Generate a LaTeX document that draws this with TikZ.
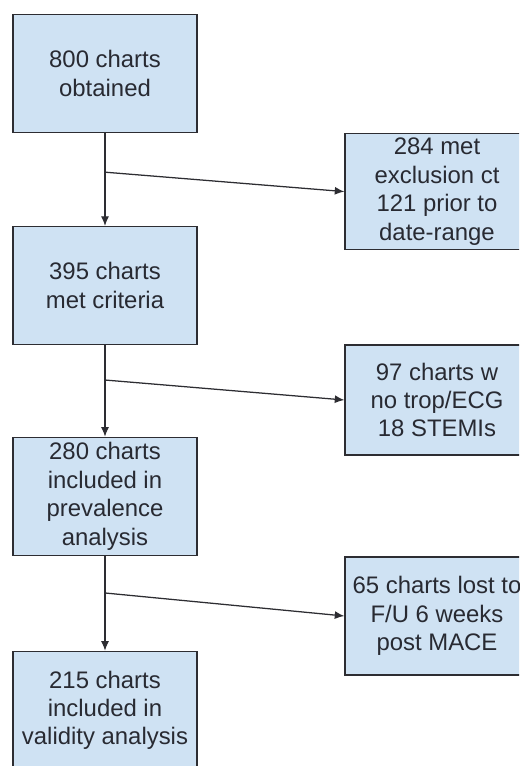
\documentclass[tikz,border=0pt]{standalone}
\usepackage{fontspec}
\setmainfont{Liberation Sans}
\usepackage{xcolor}
\usepackage{tikz}
\usetikzlibrary{arrows.meta, positioning, calc}
\definecolor{chartblue}{RGB}{207,226,243}
\definecolor{chartedge}{RGB}{45,45,50}
\definecolor{charttext}{RGB}{40,42,50}

\begin{document}
\begin{tikzpicture}[
    box/.style={rectangle, draw=chartedge, fill=chartblue, line width=0.9pt, align=center, text=charttext,
        font=\fontsize{17}{20.2}\selectfont, inner sep=0pt, minimum width=4.6cm, minimum height=2.95cm},
    arrow/.style={-{Latex[length=2.4mm, width=2mm]}, line width=0.9pt, draw=chartedge}
]
\useasboundingbox (0,0) rectangle (12.975,-19.15);
\clip (0,0) rectangle (12.975,-19.15);

% main column
\node[box] (obtained) at (2.625,-1.84) {800 charts\\obtained};
\node[box] (criteria) at (2.625,-7.14) {395 charts\\met criteria};
\node[box] (prevalence) at (2.625,-12.41) {280 charts\\included in\\prevalence\\analysis};
\node[box] (validity) at (2.625,-17.76) {215 charts\\included in\\validity analysis};

% excluded charts
\node[box, minimum height=2.9cm] (exclusion) at (10.925,-4.79) {284 met\\exclusion ct\\121 prior to\\date-range};
\node[box, minimum height=2.75cm] (notrop) at (10.925,-10.0) {97 charts w\\no trop/ECG\\18 STEMIs};
\node[box] (lostfu) at (10.925,-15.4) {65 charts lost to\\F/U 6 weeks\\post MACE};

\coordinate (split1) at ($(obtained.south)!0.42!(criteria.north)$);
\coordinate (split2) at ($(criteria.south)!0.38!(prevalence.north)$);
\coordinate (split3) at ($(prevalence.south)!0.39!(validity.north)$);

\draw[arrow] (obtained) -- (criteria);
\draw[arrow] (criteria) -- (prevalence);
\draw[arrow] (prevalence) -- (validity);
\draw[arrow] (split1) -- (exclusion.west);
\draw[arrow] (split2) -- (notrop.west);
\draw[arrow] (split3) -- (lostfu.west);
\end{tikzpicture}
\end{document}
